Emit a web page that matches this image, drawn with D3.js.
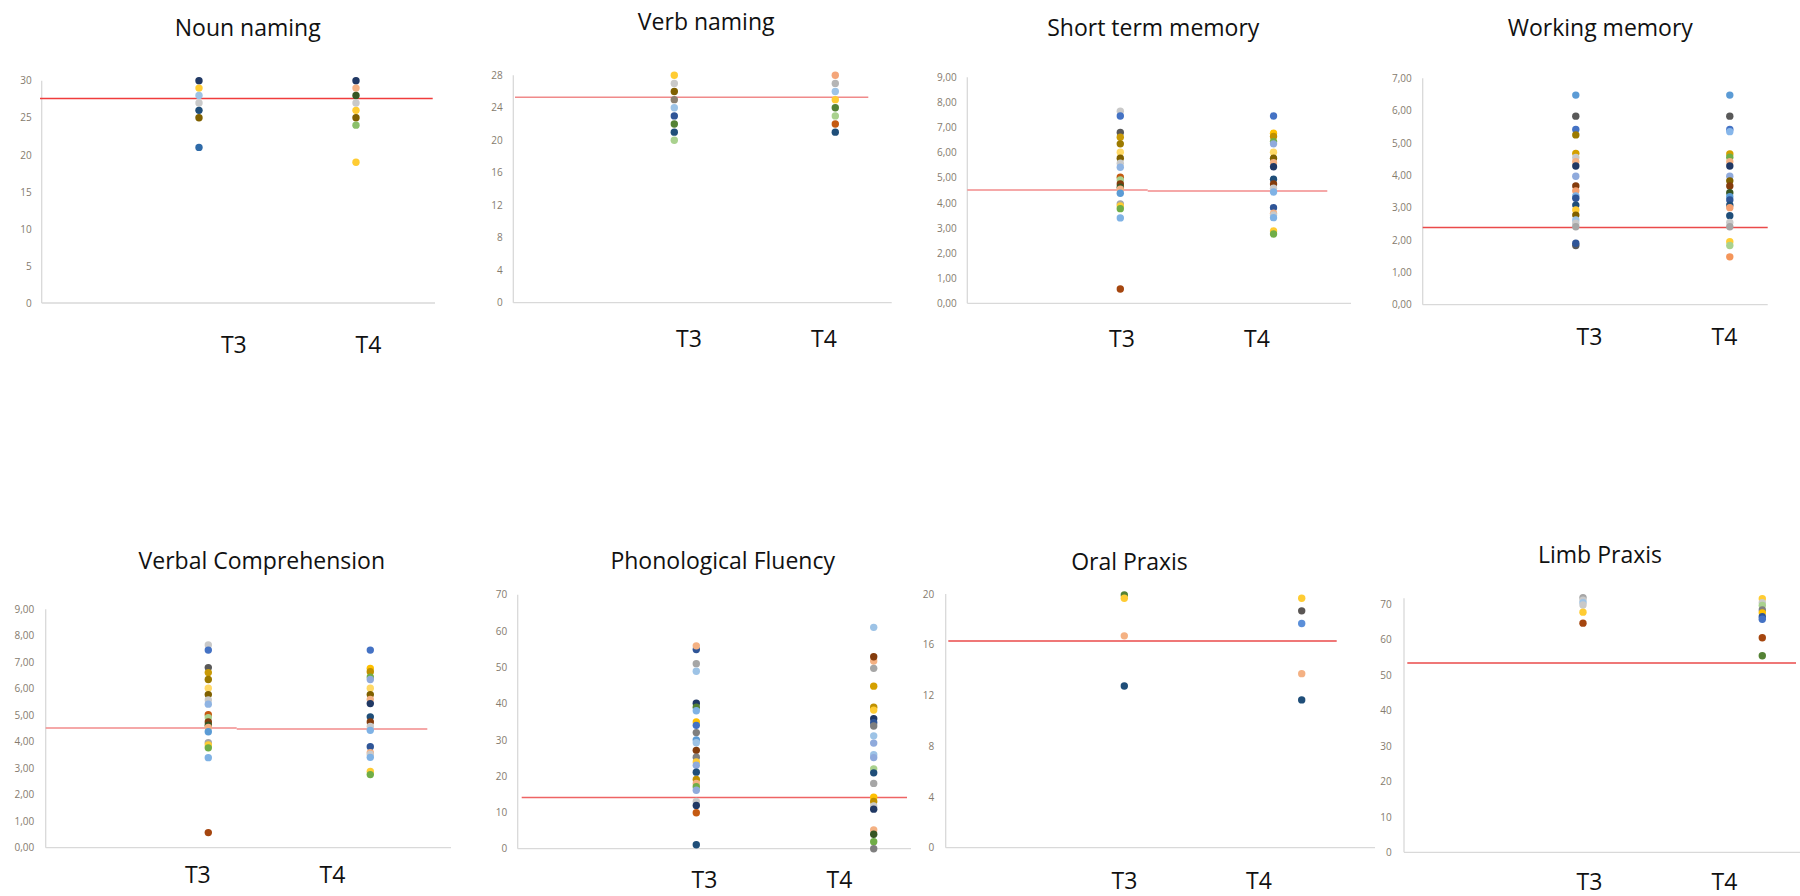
<!DOCTYPE html>
<html><head>
<meta charset="utf-8">
<title>T3 / T4 scores</title>
<script src="https://d3js.org/d3.v7.min.js"></script>
<style>
  body { margin: 0; background: #fff; }
  svg { display: block; font-family: "Open Sans", "Segoe UI", sans-serif; }
  .title { font-size: 23px; fill: #111; }
  .cat { font-size: 23px; fill: #111; }
  .tick text { font-family: "Open Sans", sans-serif; font-size: 10px; fill: #857b6e; }
</style>
</head>
<body>
<svg id="chart" width="1800" height="896"></svg>

<script>
const categories = ["T3", "T4"];

// colours (Office palette)
const navy = "#203864", dkblue = "#1f4e79", blue = "#2f5597", blue2 = "#4472c4",
      skyblue = "#5b9bd5", ltblue = "#9dc3e6", peri = "#8faadc",
      yellow = "#ffd966", yellow2 = "#ffcc33", amber = "#ffc000", gold = "#bf9000", olive = "#7f6000",
      ltgray = "#c9c9c9", gray = "#a6a6a6", mdgray = "#7f7f7f", dkgray = "#595959",
      peach = "#f4b183", orange = "#c55a11", brown = "#843c0c",
      green = "#548235", dkgreen = "#375623", ltgreen = "#a9d18e", green2 = "#70ad47";

// Noun naming
const nounTicks = [0, 5, 10, 15, 20, 25, 30];
const nounT3 = [30, 29, 28, 27, 26, 25, 21];
const nounT4 = [30, 29, 28, 27, 26, 25, 24, 19];
const nounCutoff = [27.6];
const nounT3Fill = [navy, yellow2, ltblue, ltgray, dkblue, olive, "#2e6aa8"];
const nounT4Fill = [navy, peach, dkgreen, ltgray, yellow2, olive, "#8bc06a", yellow2];

// Verb naming
const verbTicks = [0, 4, 8, 12, 16, 20, 24, 28];
const verbT3 = [28, 27, 26, 25, 24, 23, 22, 21, 20];
const verbT4 = [28, 27, 26, 25, 24, 23, 22, 21];
const verbCutoff = [25.3];
const verbT3Fill = [yellow2, ltgray, olive, "#8c8070", ltblue, blue, green, dkblue, ltgreen];
const verbT4Fill = ["#f4a67a", "#b5b5b5", ltblue, yellow2, green, ltgreen, orange, dkblue];

// Short term memory
const stmTicks = [0, 1, 2, 3, 4, 5, 6, 7, 8, 9];
const stmT3 = [7.65, 7.46, 6.80, 6.61, 6.35, 6.02, 5.78, 5.58, 5.42, 5.02, 4.91, 4.75, 4.62, 4.54, 4.38, 3.96, 3.88, 3.77, 3.40, 0.57];
const stmT4 = [7.46, 6.77, 6.64, 6.44, 6.35, 6.02, 5.78, 5.60, 5.44, 4.94, 4.75, 4.58, 4.43, 3.81, 3.59, 3.52, 3.41, 2.88, 2.76];
const stmCutoff = [4.51, 4.47];
const stmT3Fill = [ltgray, blue2, dkgray, "#c99a06", "#9c7a00", yellow, olive, ltgray, "#8fb4e3", orange, ltgreen, brown, dkgreen, peach, skyblue, gray, yellow2, green2, "#7fb2e5", "#a5460f"];
const stmT4Fill = [blue2, amber, gold, green2, peri, yellow, olive, peach, navy, dkblue, brown, ltgray, "#7fb2e5", blue, peach, ltgray, "#7fb2e5", yellow2, green2];

// Working memory
const wmTicks = [0, 1, 2, 3, 4, 5, 6, 7];
const wmT3 = [6.48, 5.83, 5.42, 5.25, 4.68, 4.55, 4.42, 4.29, 3.97, 3.67, 3.52, 3.36, 3.29, 3.08, 2.93, 2.77, 2.62, 2.52, 2.41, 1.83, 1.90];
const wmT4 = [6.48, 5.83, 5.42, 5.35, 4.66, 4.56, 4.42, 4.29, 3.97, 3.83, 3.67, 3.46, 3.34, 3.24, 3.08, 3.00, 2.75, 2.54, 2.41, 1.95, 1.83, 1.48];
const wmCutoff = [2.39];
const wmT3Fill = [skyblue, dkgray, blue2, "#9c7a00", "#d4a000", ltgray, peach, navy, peri, brown, "#f4a070", "#7fb2e5", blue, dkblue, yellow2, olive, ltblue, ltgray, gray, dkgray, blue];
const wmT4Fill = [skyblue, dkgray, blue2, "#86b6ea", "#d4a000", green2, peach, navy, peri, olive, brown, dkgreen, skyblue, blue, dkblue, "#f4a070", dkblue, ltgray, gray, yellow2, ltgreen, "#f4955a"];

// Verbal comprehension
const vcTicks = [0, 1, 2, 3, 4, 5, 6, 7, 8, 9];
const vcT3 = [7.65, 7.46, 6.80, 6.61, 6.35, 6.02, 5.78, 5.58, 5.42, 5.02, 4.91, 4.75, 4.62, 4.54, 4.38, 3.96, 3.88, 3.77, 3.40, 0.57];
const vcT4 = [7.46, 6.77, 6.64, 6.44, 6.35, 6.02, 5.78, 5.60, 5.44, 4.94, 4.75, 4.58, 4.43, 3.81, 3.59, 3.52, 3.41, 2.88, 2.76];
const vcCutoff = [4.52, 4.48];
const vcT3Fill = stmT3Fill;
const vcT4Fill = stmT4Fill;

// Phonological fluency
const pfTicks = [0, 10, 20, 30, 40, 50, 60, 70];
const pfT3 = [54.9, 55.9, 51.0, 48.9, 40.1, 39.0, 38.0, 34.9, 34.0, 32.0, 30.0, 29.2, 27.1, 25.2, 23.9, 23.0, 21.1, 19.1, 18.0, 17.1, 16.1, 13.0, 11.9, 9.9, 1.1];
const pfT4 = [61.0, 51.7, 52.9, 49.7, 44.8, 39.0, 38.2, 35.8, 34.7, 33.8, 31.1, 29.1, 25.9, 25.1, 22.0, 20.9, 18.0, 14.2, 13.0, 11.8, 10.9, 5.2, 4.0, 1.9, 0];
const pfCutoff = [14.1];
const pfT3Fill = [blue, peach, gray, ltblue, navy, green, "#7fb2e5", amber, blue2, mdgray, skyblue, ltblue, brown, mdgray, yellow2, peri, dkblue, gold, peach, green2, peri, ltgray, navy, orange, dkblue];
const pfT4Fill = [ltblue, peach, brown, gray, "#d4a000", gold, yellow2, navy, blue, mdgray, ltblue, peri, ltblue, peri, ltgreen, dkblue, gray, amber, gold, ltgray, navy, peach, dkgreen, green2, mdgray];

// Oral praxis
const oralTicks = [0, 4, 8, 12, 16, 20];
const oralT3 = [19.93, 19.67, 16.7, 12.75];
const oralT4 = [19.67, 18.67, 17.67, 13.72, 11.65];
const oralCutoff = [16.3];
const oralT3Fill = [green, yellow2, peach, dkblue];
const oralT4Fill = [yellow2, "#5a5654", "#5b8fd9", peach, dkblue];

// Limb praxis
const limbTicks = [0, 10, 20, 30, 40, 50, 60, 70];
const limbT3 = [71.8, 71.1, 70.4, 69.7, 67.7, 64.6];
const limbT4 = [71.5, 70.4, 69.6, 68.3, 67.5, 66.4, 65.7, 60.5, 55.4];
const limbCutoff = [53.4];
const limbT3Fill = [gray, ltgray, ltblue, ltgray, yellow2, "#a5460f"];
const limbT4Fill = [yellow2, ltgray, ltgreen, mdgray, amber, blue, blue2, "#a5460f", green];

const fmtComma = d3.formatLocale({decimal: ",", thousands: ".", grouping: [3], currency: ["", ""]}).format(".2f");
const fmtInt = d3.format("d");

// layout of each small chart (pixel positions)
const panels = [
  {title: "Noun naming", ticks: nounTicks, vals: [nounT3, nounT4], fills: [nounT3Fill, nounT4Fill], cut: nounCutoff, fmt: fmtInt,
   axisX: 41.7, top: 80.7, bottom: 303, right: 435, dotX: [199, 356], line: [40, null, 432.7], lineColor: "#f03c3c",
   titleX: 247.7, titleY: 36, labX: [233.8, 368.5], labY: 353.3, tickX: 31.7},
  {title: "Verb naming", ticks: verbTicks, vals: [verbT3, verbT4], fills: [verbT3Fill, verbT4Fill], cut: verbCutoff, fmt: fmtInt,
   axisX: 513.3, top: 75.3, bottom: 302.7, right: 891.7, dotX: [674.3, 835.3], line: [515, null, 868.3], lineColor: "#f08a8a",
   titleX: 706.2, titleY: 30, labX: [689, 824], labY: 346.7, tickX: 502.7},
  {title: "Short term memory", ticks: stmTicks, vals: [stmT3, stmT4], fills: [stmT3Fill, stmT4Fill], cut: stmCutoff, fmt: fmtComma,
   axisX: 967.3, top: 77.3, bottom: 303.3, right: 1351, dotX: [1120.3, 1273.5], line: [967.3, 1147.7, 1327.3], lineColor: "#f28b8b",
   titleX: 1153.3, titleY: 36, labX: [1122, 1257], labY: 346.7, tickX: 956.7},
  {title: "Working memory", ticks: wmTicks, vals: [wmT3, wmT4], fills: [wmT3Fill, wmT4Fill], cut: wmCutoff, fmt: fmtComma,
   axisX: 1422.7, top: 78.3, bottom: 304.7, right: 1767.7, dotX: [1575.8, 1729.8], line: [1422.7, null, 1767.7], lineColor: "#ea4a4a",
   titleX: 1600.3, titleY: 36, labX: [1589.5, 1724.5], labY: 345, tickX: 1411.7},
  {title: "Verbal Comprehension", ticks: vcTicks, vals: [vcT3, vcT4], fills: [vcT3Fill, vcT4Fill], cut: vcCutoff, fmt: fmtComma,
   axisX: 45.7, top: 609.3, bottom: 847.7, right: 451, dotX: [208.3, 370.3], line: [45.7, 236.7, 427.3], lineColor: "#f28b8b",
   titleX: 261.8, titleY: 569, labX: [197.8, 332.5], labY: 882.7, tickX: 34.3},
  {title: "Phonological Fluency", ticks: pfTicks, vals: [pfT3, pfT4], fills: [pfT3Fill, pfT4Fill], cut: pfCutoff, fmt: fmtInt,
   axisX: 517.7, top: 594.7, bottom: 848.7, right: 911, dotX: [696.3, 873.7], line: [521.7, null, 907], lineColor: "#ee6464",
   titleX: 722.7, titleY: 569.3, labX: [704.5, 839.5], labY: 888.3, tickX: 507.3},
  {title: "Oral Praxis", ticks: oralTicks, vals: [oralT3, oralT4], fills: [oralT3Fill, oralT4Fill], cut: oralCutoff, fmt: fmtInt,
   axisX: 945.7, top: 594, bottom: 847.7, right: 1375, dotX: [1124.3, 1301.7], line: [948.3, null, 1336.7], lineColor: "#ea4a4a",
   titleX: 1129.5, titleY: 570, labX: [1124.5, 1259], labY: 889, tickX: 934.3},
  {title: "Limb Praxis", ticks: limbTicks, vals: [limbT3, limbT4], fills: [limbT3Fill, limbT4Fill], cut: limbCutoff, fmt: fmtInt,
   axisX: 1404, top: 604, axisTop: 598.3, bottom: 852.3, right: 1800, dotX: [1583, 1762.3], line: [1407.3, null, 1796], lineColor: "#ea4a4a",
   titleX: 1600, titleY: 562.7, labX: [1589.5, 1724.5], labY: 889.5, tickX: 1391.7}
];

const svg = d3.select("#chart");

panels.forEach(p => {
  const g = svg.append("g");
  const y = d3.scaleLinear().domain([0, d3.max(p.ticks)]).range([p.bottom, p.top]);
  const x = d3.scaleOrdinal().domain(categories).range(p.dotX);

  // axis lines
  g.append("line")
    .attr("x1", p.axisX).attr("x2", p.axisX)
    .attr("y1", p.axisTop || p.top).attr("y2", p.bottom)
    .attr("stroke", "#d9d9d9").attr("stroke-width", 1.3);
  g.append("line")
    .attr("x1", p.axisX).attr("x2", p.right)
    .attr("y1", p.bottom).attr("y2", p.bottom)
    .attr("stroke", "#d9d9d9").attr("stroke-width", 1.3);

  // tick labels
  const axis = d3.axisLeft(y).tickValues(p.ticks).tickFormat(p.fmt)
    .tickSize(0).tickPadding(p.axisX - p.tickX);
  g.append("g")
    .attr("transform", `translate(${p.axisX},0)`)
    .call(axis)
    .call(a => a.select(".domain").remove());

  // cut-off line
  if (p.cut.length === 1) {
    g.append("line")
      .attr("x1", p.line[0]).attr("x2", p.line[2])
      .attr("y1", y(p.cut[0])).attr("y2", y(p.cut[0]))
      .attr("stroke", p.lineColor).attr("stroke-width", 1.5);
  } else {
    g.append("line")
      .attr("x1", p.line[0]).attr("x2", p.line[1])
      .attr("y1", y(p.cut[0])).attr("y2", y(p.cut[0]))
      .attr("stroke", p.lineColor).attr("stroke-width", 1.5);
    g.append("line")
      .attr("x1", p.line[1]).attr("x2", p.line[2])
      .attr("y1", y(p.cut[1])).attr("y2", y(p.cut[1]))
      .attr("stroke", p.lineColor).attr("stroke-width", 1.5);
  }

  // dots
  categories.forEach((c, i) => {
    g.selectAll(null)
      .data(d3.zip(p.vals[i], p.fills[i]))
      .join("circle")
      .attr("cx", x(c))
      .attr("cy", d => y(d[0]))
      .attr("r", 3.7)
      .attr("fill", d => d[1]);
  });

  // title and category labels
  g.append("text").attr("class", "title")
    .attr("x", p.titleX).attr("y", p.titleY)
    .attr("text-anchor", "middle")
    .text(p.title);

  categories.forEach((c, i) => {
    g.append("text").attr("class", "cat")
      .attr("x", p.labX[i]).attr("y", p.labY)
      .attr("text-anchor", "middle")
      .text(c);
  });
});
</script>
</body>
</html>
